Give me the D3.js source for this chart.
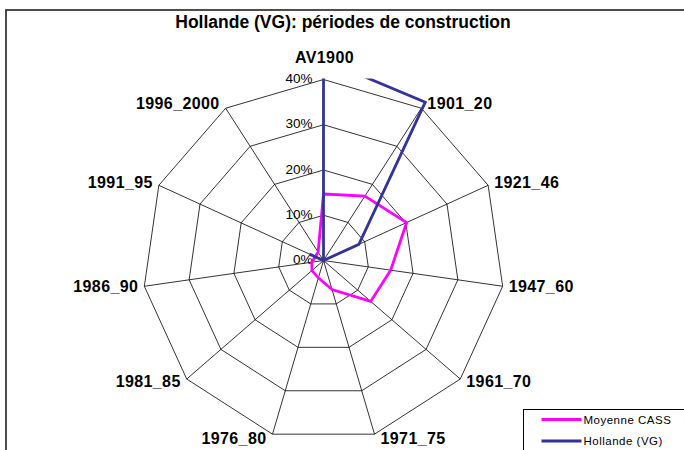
<!DOCTYPE html>
<html>
<head>
<meta charset="utf-8">
<script src="https://cdn.jsdelivr.net/npm/d3@7"></script>
<style>
  body { margin: 0; background: #fff; }
  svg { display: block; font-family: "Liberation Sans", Arial, sans-serif; }
</style>
</head>
<body>
<div id="chart"></div>
<script>
// periods (radar axes, clockwise from the top)
const categories = ['AV1900', '1901_20', '1921_46', '1947_60', '1961_70', '1971_75',
                    '1976_80', '1981_85', '1986_90', '1991_95', '1996_2000'];
// share of dwellings per period, in %
const moyenneCass = [14.7, 16.9, 20.2, 15.0, 13.8, 6.7, 4.0, 3.4, 2.6, 2.0, 2.2];
const hollande    = [44.4, 41.6, 8.6, 0, 0, 0, 0, 0, 0, 3.4, 0];
const tickValues = [0, 10, 20, 30, 40];
const seriesNames = ['Moyenne CASS', 'Hollande (VG)'];
const seriesColors = ['#ff00ff', '#333399'];

const width = 684, height = 450;
const cx = 323.5, cy = 260.5, R = 181;

const svg = d3.select('#chart').append('svg')
    .attr('width', width)
    .attr('height', height);

// chart frame
svg.append('rect')
    .attr('x', 6).attr('y', 10)
    .attr('width', 720).attr('height', 480)
    .attr('fill', '#fff')
    .attr('stroke', '#222')
    .attr('stroke-width', 1.6);

svg.append('text')
    .attr('x', 343).attr('y', 28)
    .attr('text-anchor', 'middle')
    .style('font-size', '17.5px')
    .style('font-weight', 'bold')
    .text('Hollande (VG): périodes de construction');

const r = d3.scaleLinear().domain([0, 40]).range([0, R]);
const angle = d3.scalePoint().domain(categories.concat(['_end'])).range([0, 2 * Math.PI]);

const g = svg.append('g').attr('transform', `translate(${cx},${cy})`);

// grid rings
const ring = d3.lineRadial().curve(d3.curveLinearClosed);
g.selectAll('.ring')
    .data(tickValues.slice(1))
    .enter()
    .append('path')
    .attr('class', 'ring')
    .attr('d', v => ring(categories.map(c => [angle(c), r(v)])))
    .attr('fill', 'none')
    .attr('stroke', '#000')
    .attr('stroke-width', 0.8);

// spokes
g.selectAll('.spoke')
    .data(categories)
    .enter()
    .append('line')
    .attr('class', 'spoke')
    .attr('x1', 0).attr('y1', 0)
    .attr('x2', c => r(40) * Math.sin(angle(c)))
    .attr('y2', c => -r(40) * Math.cos(angle(c)))
    .attr('stroke', '#000')
    .attr('stroke-width', 0.8);

// tick labels
g.selectAll('.tick')
    .data(tickValues)
    .enter()
    .append('text')
    .attr('class', 'tick')
    .attr('x', -11)
    .attr('y', v => -r(v) - 1)
    .attr('dy', '0.35em')
    .attr('text-anchor', 'end')
    .style('font-size', '13.5px')
    .text(v => v + '%');

// category labels
g.selectAll('.cat')
    .data(categories)
    .enter()
    .append('text')
    .attr('class', 'cat')
    .each(function (c) {
        const a = angle(c);
        const s = Math.sin(a), co = Math.cos(a);
        const vx = r(40) * s, vy = -r(40) * co;
        const t = d3.select(this);
        if (Math.abs(s) < 0.05) {
            t.attr('x', vx + 1).attr('y', vy - 22).attr('text-anchor', 'middle');
        } else {
            t.attr('x', vx + (s > 0 ? 6 : -6))
             .attr('y', vy - 5 * co - 1)
             .attr('text-anchor', s > 0 ? 'start' : 'end');
        }
    })
    .attr('dy', '0.35em')
    .style('font-size', '16px')
    .style('font-weight', 'bold')
    .style('letter-spacing', '0.4px')
    .text(c => c);

// clip at the top of the plot area
svg.append('clipPath').attr('id', 'plot-clip')
    .append('rect')
    .attr('x', -cx).attr('y', -R - 1)
    .attr('width', width).attr('height', height);

const line = d3.lineRadial().curve(d3.curveLinearClosed);
const series = [moyenneCass, hollande];
g.append('g')
    .attr('clip-path', 'url(#plot-clip)')
    .selectAll('.series')
    .data(series)
    .enter()
    .append('path')
    .attr('class', 'series')
    .attr('d', vals => line(vals.map((v, i) => [angle(categories[i]), r(v)])))
    .attr('fill', 'none')
    .attr('stroke', (d, i) => seriesColors[i])
    .attr('stroke-width', 2.8)
    .attr('stroke-linejoin', 'miter');

// legend
const legend = svg.append('g').attr('transform', 'translate(523.5,409.5)');
legend.append('rect')
    .attr('width', 220).attr('height', 80)
    .attr('fill', '#fff')
    .attr('stroke', '#000')
    .attr('stroke-width', 1);

const item = legend.selectAll('.item')
    .data(seriesNames)
    .enter()
    .append('g')
    .attr('class', 'item')
    .attr('transform', (d, i) => `translate(0,${10 + i * 21.5})`);

item.append('line')
    .attr('x1', 18).attr('x2', 58)
    .attr('stroke', (d, i) => seriesColors[i])
    .attr('stroke-width', 2.8);

item.append('text')
    .attr('x', 60)
    .attr('dy', '0.35em')
    .style('font-size', '11.5px')
    .style('letter-spacing', '0.5px')
    .text(d => d);
</script>
</body>
</html>
